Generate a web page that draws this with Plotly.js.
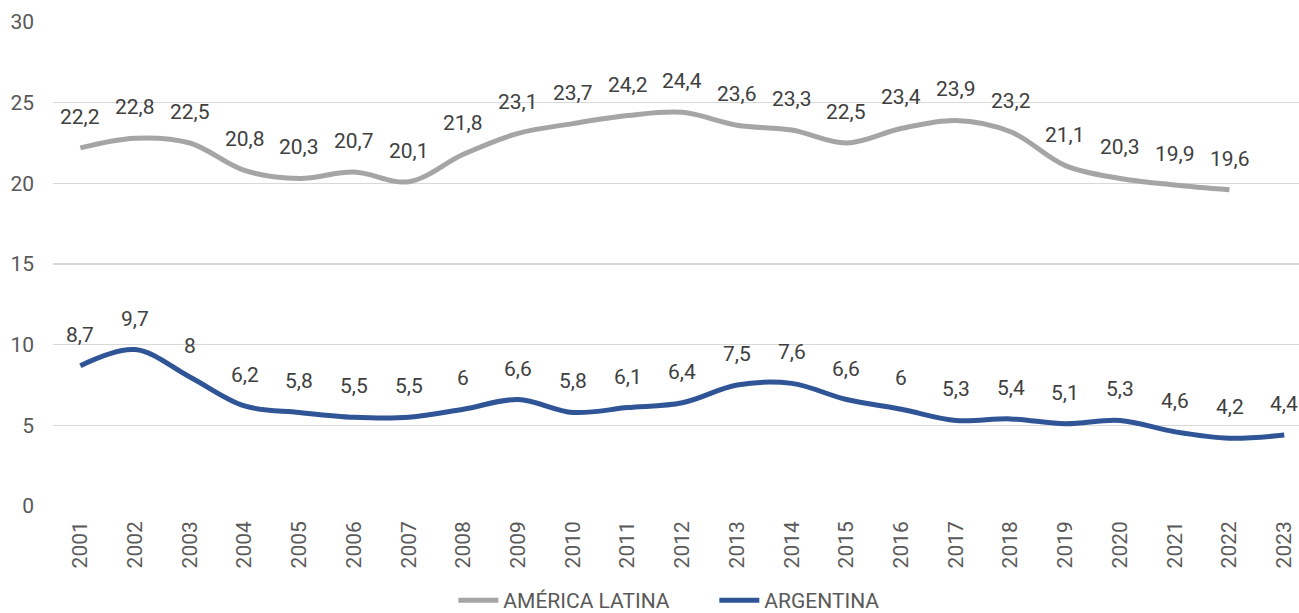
<!DOCTYPE html>
<html>
<head>
<meta charset="utf-8">
<script src="https://cdn.plot.ly/plotly-3.0.1.min.js"></script>
<style>html,body{margin:0;padding:0;background:#fff;}#chart{width:1299px;height:613px;}</style>
</head>
<body>
<div id="chart"></div>
<script>
const years = ["2001","2002","2003","2004","2005","2006","2007","2008","2009","2010","2011","2012","2013","2014","2015","2016","2017","2018","2019","2020","2021","2022","2023"];
const americaLatina = [22.2,22.8,22.5,20.8,20.3,20.7,20.1,21.8,23.1,23.7,24.2,24.4,23.6,23.3,22.5,23.4,23.9,23.2,21.1,20.3,19.9,19.6,null];
const argentina = [8.7,9.7,8,6.2,5.8,5.5,5.5,6,6.6,5.8,6.1,6.4,7.5,7.6,6.6,6,5.3,5.4,5.1,5.3,4.6,4.2,4.4];
const seriesNames = ["AMÉRICA LATINA","ARGENTINA"];
const colors = ["#A5A5A5","#2F5597"];

const fmt = v => String(v).replace('.', ',');
const FONT = "Roboto, 'Open Sans', sans-serif";
const FS = 21;

const traces = [americaLatina, argentina].map((vals, i) => ({
  x: years, y: vals, name: seriesNames[i], type: 'scatter', mode: 'lines',
  line: {color: colors[i], width: 5, shape: 'spline', smoothing: 1},
  connectgaps: false, hoverinfo: 'x+y'
}));

const annotations = [];
[americaLatina, argentina].forEach(vals => {
  vals.forEach((v, j) => {
    if (v === null) return;
    annotations.push({x: j, y: v, xref: 'x', yref: 'y', text: fmt(v), showarrow: false,
      yshift: 31, xanchor: 'center', yanchor: 'middle',
      font: {family: FONT, size: FS, color: '#404040'}});
  });
});

const layout = {
  width: 1299, height: 613,
  margin: {l: 53, r: 0, t: 22, b: 107, autoexpand: false},
  paper_bgcolor: '#fff', plot_bgcolor: '#fff',
  font: {family: FONT, color: '#595959', size: FS},
  xaxis: {type: 'category', range: [-0.5, 22.27], tickangle: -90, showgrid: false,
    zeroline: false, showline: false, ticks: '', ticklabelstandoff: 10, automargin: false,
    tickfont: {family: FONT, size: FS, color: '#595959'}},
  yaxis: {range: [0, 30], dtick: 5, tick0: 0, showgrid: true, gridcolor: '#D9D9D9', gridwidth: 1.5,
    zeroline: false, showline: false, ticks: '', ticklabelstandoff: 18, automargin: false,
    tickfont: {family: FONT, size: FS, color: '#595959'}},
  showlegend: true,
  legend: {orientation: 'h', x: 0.349, xanchor: 'left', y: -0.153, yanchor: 'top',
    yref: 'paper', xref: 'container', font: {family: FONT, size: FS, color: '#595959'},
    itemwidth: 40, entrywidth: 206, entrywidthmode: 'pixels', bgcolor: 'rgba(0,0,0,0)'},
  annotations: annotations
};

Plotly.newPlot('chart', traces, layout, {displayModeBar: false, staticPlot: true});
</script>
</body>
</html>
